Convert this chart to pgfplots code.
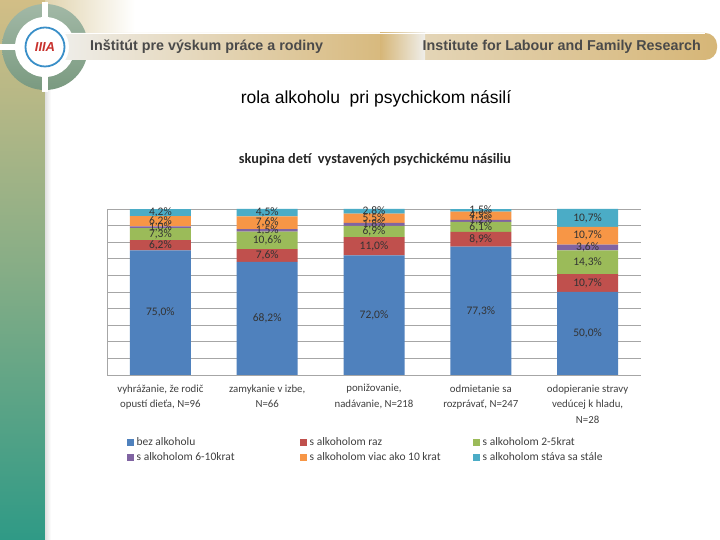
\documentclass[border=0pt]{standalone}
\usepackage{pgfplots}
\pgfplotsset{compat=1.18}
\usepackage{pgfplotstable}
\usepackage{fontspec}
\setmainfont{Liberation Sans}
\newfontfamily\carlito{Carlito}

\definecolor{cblue}{HTML}{4F81BD}
\definecolor{cred}{HTML}{C0504D}
\definecolor{cgreen}{HTML}{9BBB59}
\definecolor{cpurple}{HTML}{8064A2}
\definecolor{corange}{HTML}{F79646}
\definecolor{cteal}{HTML}{4BACC6}
\definecolor{striptop}{HTML}{D2BE86}
\definecolor{stripmid}{HTML}{86AD86}
\definecolor{stripbot}{HTML}{2F9A86}
\definecolor{bannertan}{HTML}{D6B677}
\definecolor{bannerlight}{HTML}{EFEEEA}
\definecolor{discgreen}{HTML}{7A9A80}
\definecolor{ringblue}{HTML}{3A8FC8}
\definecolor{logored}{HTML}{C8302C}
\definecolor{bannertext}{HTML}{4A4A4A}

\pgfplotsset{
  sqlegend/.style={legend image code/.code={\fill[##1] (0pt,-3.5pt) rectangle (7pt,3.5pt);}},
  series/.style={fill=#1, draw=none, sqlegend},
}

\pgfplotstableread{
x bez raz dva sest viac stale
0 75.0 6.2 7.3 1.0 6.2 4.2
1 68.2 7.6 10.6 1.5 7.6 4.5
2 72.0 11.0 6.9 1.8 5.5 2.8
3 77.3 8.9 6.1 1.2 4.9 1.5
4 50.0 10.7 14.3 3.6 10.7 10.7
}\datatable

\begin{document}
\begin{tikzpicture}[x=1pt,y=1pt]
\useasboundingbox (0,0) rectangle (720,540);
\fill[white] (0,0) rectangle (720,540);
% top-left wash
\shade[left color=striptop, right color=white] (0,500) rectangle (135,540);
% left strip
\shade[top color=striptop, bottom color=stripmid] (0,270) rectangle (45,540);
\shade[top color=stripmid, bottom color=stripbot] (0,0) rectangle (45,270.5);
\shade[left color=black!12, right color=white] (45,0) rectangle (51,450);
% disc
\shade[top color=discgreen!70!white, bottom color=discgreen] (45,493) circle (43);
\fill[white] (42,448) rectangle (48,538);
\fill[white] (0,490) rectangle (90,496);
\fill[white] (45,493) circle (30);
% banner
\shade[left color=bannerlight, right color=bannertan, rounded corners=3pt] (58,480) rectangle (402,507);
\shade[left color=bannerlight!60!bannertan, right color=bannertan, rounded corners=12pt] (398,480) rectangle (717,507);
\shade[left color=bannertan, right color=bannerlight] (380,480) rectangle (425,507);
\draw[white, line width=1pt] (58,506.5) -- (705,506.5);
% logo
\fill[white] (45,493) circle (24);
\draw[ringblue, line width=1.8pt] (45,493) circle (19.5);
\node[text=logored, font=\bfseries\itshape\fontsize{13}{13}\selectfont] at (45,493) {IIIA};
% banner texts
\node[anchor=west, text=bannertext, font=\bfseries\fontsize{14.3}{16}\selectfont, inner sep=0pt] at (90,493) {Inštitút pre výskum práce a rodiny};
\node[anchor=east, text=bannertext, font=\bfseries\fontsize{14.3}{16}\selectfont, inner sep=0pt] at (701,493) {Institute for Labour and Family Research};
% slide title
\node[font=\fontsize{17.5}{20}\selectfont, text=black] at (376,441) {rola alkoholu\ \ pri psychickom násilí};
% chart title
\node[font=\carlito\bfseries\fontsize{14.3}{16}\selectfont, text=black!85] at (375,380) {skupina detí\ \ vystavených psychickému násiliu};

\begin{axis}[
  at={(107pt,165pt)}, anchor=south west,
  scale only axis, width=534pt, height=166pt,
  ybar stacked, bar width=61pt,
  xmin=-0.5, xmax=4.5, ymin=0, ymax=100,
  xtick={0,1,2,3,4},
  xticklabels={{vyhrážanie, že rodič\\opustí dieťa, N=96},{zamykanie v izbe,\\N=66},{ponižovanie,\\nadávanie, N=218},{odmietanie sa\\rozprávať, N=247},{odopieranie stravy\\vedúcej k hladu,\\N=28}},
  xticklabel style={font=\carlito\fontsize{10.8}{15.8}\selectfont, text=black!75, align=center, yshift=-6pt},
  x tick style={draw=none},
  ytick={0,10,...,100}, yticklabels={},
  y tick style={draw=none},
  ymajorgrids, grid style={draw=black!35, line width=0.7pt},
  axis x line*=bottom, axis y line*=left,
  axis line style={draw=black!35, line width=0.7pt, -},
  point meta=explicit,
  nodes near coords={\pgfmathprintnumber[fixed,fixed zerofill,precision=1,use comma,assume math mode=true]{\pgfplotspointmeta}\%},
  every node near coord/.append style={font=\carlito\fontsize{11.5}{12}\selectfont, text=black!80, anchor=center, inner sep=0pt},
  legend columns=3,
  legend style={at={(0.031,-0.36)}, anchor=north west, draw=none, fill=none, font=\carlito\fontsize{11.5}{13}\selectfont, text=black!75, row sep=3pt, nodes={inner sep=1pt}},
]
\addplot[series=cblue] table[x=x, y=bez, meta=bez]{\datatable};
\addlegendentry{\makebox[164pt][l]{\,bez alkoholu}}
\addplot[series=cred] table[x=x, y=raz, meta=raz]{\datatable};
\addlegendentry{\makebox[164pt][l]{\,s alkoholom raz}}
\addplot[series=cgreen] table[x=x, y=dva, meta=dva]{\datatable};
\addlegendentry{\makebox[164pt][l]{\,s alkoholom 2-5krat}}
\addplot[series=cpurple] table[x=x, y=sest, meta=sest]{\datatable};
\addlegendentry{\makebox[164pt][l]{\,s alkoholom 6-10krat}}
\addplot[series=corange] table[x=x, y=viac, meta=viac]{\datatable};
\addlegendentry{\makebox[164pt][l]{\,s alkoholom viac ako 10 krat}}
\addplot[series=cteal] table[x=x, y=stale, meta=stale]{\datatable};
\addlegendentry{\makebox[164pt][l]{\,s alkoholom stáva sa stále}}
\end{axis}
\end{tikzpicture}
\end{document}
